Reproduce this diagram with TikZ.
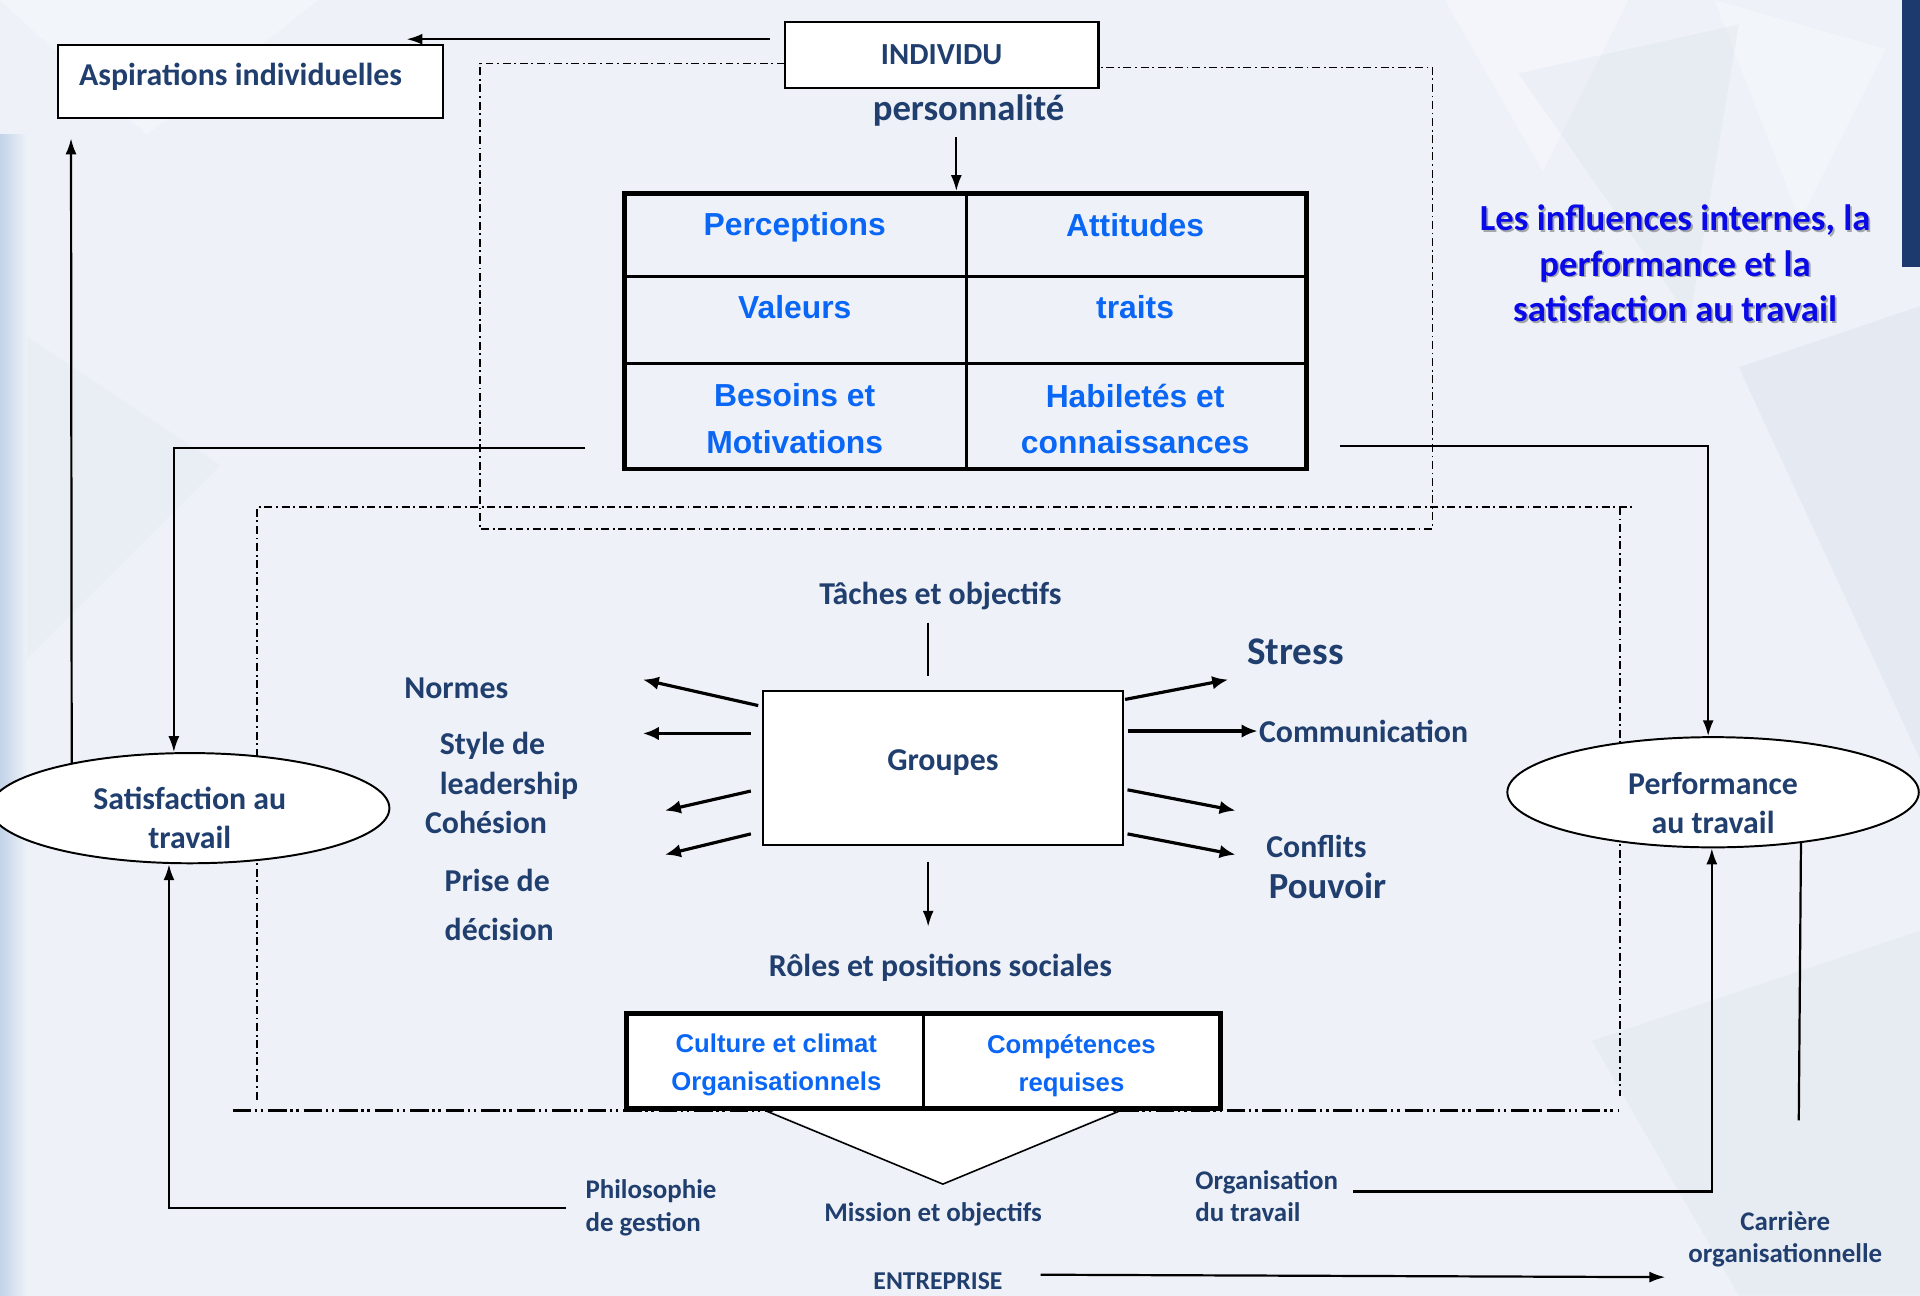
\documentclass[tikz,border=0pt]{standalone}
\usepackage{fontspec}
\setmainfont{Carlito}
\newfontfamily\arialf{Liberation Sans}
\usetikzlibrary{arrows.meta,shapes.geometric,calc}
\definecolor{bgc}{HTML}{EEF2F8}
\definecolor{lbl}{HTML}{203E6E}
\definecolor{cellblue}{HTML}{0A66F5}
\definecolor{titleblue}{HTML}{0A0AE8}
\definecolor{navy}{HTML}{1C3A6E}
\definecolor{edgeblue}{HTML}{C3D3E8}

\begin{document}
\begin{tikzpicture}[x=1pt,y=-1pt,
  lab/.style={text=lbl,font=\bfseries\fontsize{26}{32}\selectfont,inner sep=0pt,align=center},
  lableft/.style={lab,anchor=west,align=left},
  smalllab/.style={text=lbl,font=\bfseries\fontsize{22}{26.5}\selectfont,inner sep=0pt,align=left},
  cell/.style={text=cellblue,font=\arialf\bfseries\fontsize{26}{38}\selectfont,inner sep=0pt,align=center},
  cellsm/.style={text=cellblue,font=\arialf\bfseries\fontsize{21}{31}\selectfont,inner sep=0pt,align=center},
  box/.style={draw=black,fill=white,line width=1.6pt,inner sep=0pt},
  conn/.style={draw=black,line width=1.8pt},
  tip/.style={-{Latex[length=13pt,width=9pt]}},
  bigarrow/.style={draw=black,line width=2.6pt,-{Latex[length=13pt,width=11pt]}},
  framedash/.style={draw=black,line width=1.3pt,dash pattern=on 6.5pt off 3pt on 1.5pt off 3pt},
  framebase/.style={draw=black,line width=2.2pt,dash pattern=on 15pt off 3pt on 2pt off 3pt on 2pt off 4pt},
]
% ---- background ----
\useasboundingbox (0,0) rectangle (1568,1058);
\fill[bgc] (0,0) rectangle (1568,1058);
\fill[white,opacity=0.30] (1180,0) -- (1330,0) -- (1260,140) -- cycle;
\fill[white,opacity=0.25] (1400,0) -- (1540,40) -- (1470,180) -- cycle;
\fill[navy,opacity=0.03] (1240,60) -- (1420,20) -- (1380,260) -- cycle;
\fill[navy,opacity=0.04] (1420,300) -- (1568,250) -- (1568,620) -- cycle;
\fill[navy,opacity=0.03] (1300,850) -- (1568,760) -- (1568,1058) -- (1420,1058) -- cycle;
\fill[white,opacity=0.25] (0,0) -- (260,0) -- (120,110) -- cycle;
\fill[navy,opacity=0.02] (0,260) -- (180,380) -- (0,560) -- cycle;
\shade[left color=edgeblue,right color=bgc] (0,110) rectangle (22,1058);
\fill[navy] (1553,0) rectangle (1568,218);

% ---- dash-dot frames ----
\draw[framedash] (641,52) -- (392,52) -- (392,432) -- (1170,432) -- (1170,55) -- (897,55);
\draw[framedash] (210,898) -- (210,414) -- (1333,414);
\draw[framedash] (1323,414) -- (1323,895);
\draw[framebase] (190,907) -- (1322,907);

% ---- nodes ----
\node[box,minimum width=315pt,minimum height=59pt,
      label={[lab,yshift=3.5pt,xshift=-8pt]center:Aspirations individuelles}] (asp) at (204.5,66.5) {};
\node[box,line width=2pt,minimum width=256pt,minimum height=54pt,lab,font=\bfseries\fontsize{25}{30}\selectfont] (indiv) at (769,45) {INDIVIDU};
\node[lab,font=\bfseries\fontsize{30}{36}\selectfont] (pers) at (791,90) {personnalité};

% individual characteristics table
\node[draw=black,line width=4pt,minimum width=557pt,minimum height=225pt,inner sep=0pt] (tbl) at (788.5,270.5) {};
\draw[line width=2.5pt] (789,158) -- (789,383);
\draw[line width=2.5pt] (510,226) -- (1067,226);
\draw[line width=2.5pt] (510,297) -- (1067,297);
\node[cell] (perc) at (649,186) {Perceptions};
\node[cell] (att) at (927,184) {Attitudes};
\node[cell] (val) at (649,251) {Valeurs};
\node[cell] (trt) at (927,251) {traits};
\node[cell] (bes) at (649,342) {Besoins et\\Motivations};
\node[cell] (hab) at (927,342) {Habiletés et\\connaissances};

% title
\node[text=black!70,opacity=0.45,font=\bfseries\fontsize{30}{37}\selectfont,align=center,inner sep=0pt] at (1369.5,216.5) {Les influences internes, la\\performance et la\\satisfaction au travail};
\node[text=titleblue,font=\bfseries\fontsize{30}{37}\selectfont,align=center,inner sep=0pt] (title) at (1368,215) {Les influences internes, la\\performance et la\\satisfaction au travail};

% outcome ellipses
\node[ellipse,draw=black,fill=white,line width=1.6pt,minimum width=326pt,minimum height=90pt,inner sep=0pt,
      label={[lab,yshift=-8pt]center:Satisfaction au\\travail}] (sat) at (155,660) {};
\node[ellipse,draw=black,fill=white,line width=1.6pt,minimum width=336pt,minimum height=90pt,inner sep=0pt,
      label={[lab,yshift=-9pt]center:Performance\\au travail}] (perf) at (1399,647) {};

% group box
\node[box,minimum width=294pt,minimum height=126pt,
      label={[lab,yshift=4pt]center:Groupes}] (grp) at (770,627) {};
\node[lab] (taches) at (768,487) {Tâches et objectifs};
\node[lab] (roles) at (768,790) {Rôles et positions sociales};

\node[lableft] (normes) at (330,562) {Normes};
\node[lableft] (style) at (359,609) {Style de};
\node[lableft] (lead) at (359,642) {leadership};
\node[lableft] (cohes) at (347,672) {Cohésion};
\node[lableft] (prise) at (363,719) {Prise de};
\node[lableft] (decis) at (363,759) {décision};

\node[lab,font=\bfseries\fontsize{32}{38}\selectfont] (stress) at (1058,532) {Stress};
\node[lableft] (comm) at (1028,597) {Communication};
\node[lableft] (confl) at (1034,691) {Conflits};
\node[lableft,font=\bfseries\fontsize{30}{36}\selectfont] (pouv) at (1036,723) {Pouvoir};

% organisation table and triangle
\fill[white] (625,905) -- (770,967) -- (915,905) -- cycle;
\draw[line width=1.3pt] (625,907) -- (770,967) -- (915,907);
\node[draw=black,fill=white,line width=4pt,minimum width=485pt,minimum height=77pt,inner sep=0pt] (bt) at (754.5,866.5) {};
\draw[line width=2pt] (754,828) -- (754,905);
\node[cellsm] (cult) at (634,870) {Culture et climat\\Organisationnels};
\node[cellsm] (comp) at (875,870) {Compétences\\requises};

\node[smalllab,align=center] (miss) at (762,992) {Mission et objectifs};
\node[smalllab,anchor=west] (philo) at (478,986.5) {Philosophie\\de gestion};
\node[smalllab,anchor=west] (org) at (976,977) {Organisation\\du travail};
\node[smalllab,align=center] (carr) at (1458,1012) {Carrière\\organisationnelle};
\node[smalllab,font=\bfseries\fontsize{21}{25}\selectfont] (ent) at (766,1046) {ENTREPRISE};

% ---- free ends of connectors ----
\coordinate (aspend) at (332,32);
\coordinate (aspup) at (58,113);
\coordinate (perfdown) at (1469,915);
\coordinate (entend) at (1360,1043);
\coordinate (ln) at (525,555);
\coordinate (ls) at (525,599);
\coordinate (lc) at (543,662);
\coordinate (lp) at (543,698);
\coordinate (rs) at (1003,555);
\coordinate (rc) at (1027,597);
\coordinate (rf) at (1009,662);
\coordinate (rp) at (1009,698);

% ---- connectors ----
\draw[conn,tip] ($(indiv.west)+(-11,-13)$) -- (aspend);
\draw[conn,tip,shorten <=9pt] ([xshift=-10pt]pers.south) -- ([xshift=-10pt]pers.south |- tbl.north);
\draw[conn,tip] (sat.159.6) -- (aspup);
\draw[conn,tip] ($(tbl.west)+(-30,95.5)$) -| ([xshift=-13pt]sat.north);
\draw[conn,tip] ($(tbl.east)+(25,93.5)$) -| ([xshift=-4pt]perf.north);
\draw[conn,tip] ($(philo.west)+(-16,0)$) -| ([xshift=-17pt]sat.south);
\draw[conn,tip] ($(org.east)+(12,-4)$) -| ([xshift=-1pt]perf.south);
\draw[conn] (perf.-30.3) -- (perfdown);
\draw[conn,tip] ($(ent.east)+(31,-5)$) -- (entend);

\draw[conn] ($(taches.south)+(-10,10)$) -- ($(grp.north)+(-12,-11)$);
\draw[conn,tip] ($(grp.south)+(-12,13)$) -- ($(grp.south)+(-12,66)$);

\draw[bigarrow] ($(grp.north west)+(-3,13)$) -- (ln);
\draw[bigarrow] ($(grp.west)+(-9,-28)$) -- (ls);
\draw[bigarrow] ($(grp.west)+(-9,19)$) -- (lc);
\draw[bigarrow] ($(grp.west)+(-9,54)$) -- (lp);
\draw[bigarrow] ($(grp.north east)+(1,8)$) -- (rs);
\draw[bigarrow] ($(grp.east)+(3,-30)$) -- (rc);
\draw[bigarrow] ($(grp.east)+(3,18)$) -- (rf);
\draw[bigarrow] ($(grp.east)+(3,54)$) -- (rp);
\end{tikzpicture}
\end{document}
